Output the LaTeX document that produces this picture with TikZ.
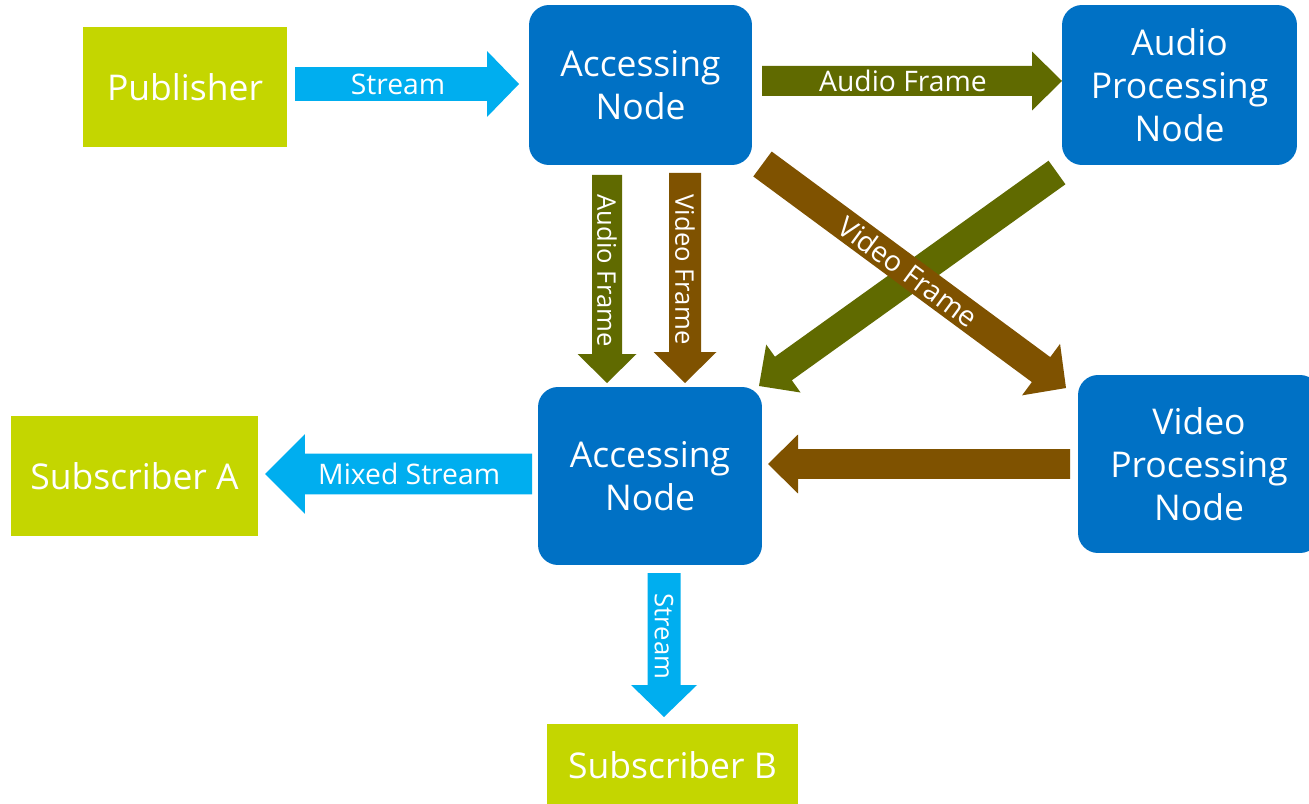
\documentclass[tikz,border=0pt]{standalone}
\usepackage{fontspec}
\setmainfont{Open Sans}
\usetikzlibrary{calc}

\definecolor{nodeblue}{RGB}{0,113,197}
\definecolor{endgreen}{RGB}{196,214,0}
\definecolor{streamcyan}{RGB}{0,174,239}
\definecolor{audioolive}{RGB}{96,106,0}
\definecolor{videobrown}{RGB}{127,82,0}

% Block arrow from #1 to #2: half shaft width #3, half head width #4,
% head length #5, fill #6
\newcommand\blockarrow[6]{%
  \coordinate (hb) at ($(#2)!#5!(#1)$);
  \fill[#6] ($(#1)!#3!90:(#2)$) -- ($(hb)!#3!90:(#2)$) -- ($(hb)!#4!90:(#2)$)
    -- (#2) -- ($(hb)!#4!-90:(#2)$) -- ($(hb)!#3!-90:(#2)$)
    -- ($(#1)!#3!-90:(#2)$) -- cycle;
}

\tikzset{
  box/.style={inner sep=0pt, text=white, align=center,
    font=\fontsize{20.2pt}{24.5pt}\selectfont},
  server/.style={box, fill=nodeblue, rounded corners=0.4cm},
  client/.style={box, fill=endgreen},
  lbl/.style={inner sep=0pt, text=white, font=\fontsize{16.1pt}{19pt}\selectfont},
  vlbl/.style={lbl, rotate=-90, font=\fontsize{14.6pt}{18pt}\selectfont},
}

\begin{document}
\begin{tikzpicture}[x=0.02cm, y=-0.02cm]
  \fill[white] (0,0) rectangle (1309,804);
  \useasboundingbox (0,0) rectangle (1309,804);

  % nodes (sizes in cm: 1 unit = 0.02cm)
  \node[client, minimum width=4.08cm, minimum height=2.4cm] (pub) at (185,87) {Publisher};
  \node[server, minimum width=4.46cm, minimum height=3.2cm] (acc1) at (640.5,85) {Accessing\\Node};
  \node[server, minimum width=4.7cm, minimum height=3.2cm] (apn) at (1179.5,85) {Audio\\Processing\\Node};
  \node[server, minimum width=4.48cm, minimum height=3.56cm] (acc2) at (650,476) {Accessing\\Node};
  \node[server, minimum width=4.84cm, minimum height=3.56cm] (vpn) at (1199,464) {Video\\Processing\\Node};
  \node[client, minimum width=4.94cm, minimum height=2.4cm] (subA) at (134.5,476) {Subscriber A};
  \node[client, minimum width=5.02cm, minimum height=1.64cm] (subB) at (672.5,765) {Subscriber B};

  % arrow end points
  \coordinate (s1) at (295,84);    \coordinate (e1) at (519,84);
  \coordinate (s2) at (762,81);    \coordinate (e2) at (1062,81);
  \coordinate (s3) at (607,175);   \coordinate (e3) at (607,383);
  \coordinate (s4) at (685,173);   \coordinate (e4) at (685,383);
  \coordinate (s5) at (1057,172.5);\coordinate (e5) at (759,386);
  \coordinate (s6) at (762.5,164); \coordinate (e6) at (1066,388);
  \coordinate (s7) at (1070,464);  \coordinate (e7) at (768,464);
  \coordinate (s8) at (532,474);   \coordinate (e8) at (265,474);
  \coordinate (s9) at (664,573);   \coordinate (e9) at (664,717);

  % publisher -> accessing node
  \blockarrow{s1}{e1}{0.34cm}{0.66cm}{0.64cm}{streamcyan}
  \path (s1) -- (e1) node[lbl, pos=0.46] {Stream};

  % accessing node -> audio processing node
  \blockarrow{s2}{e2}{0.3cm}{0.59cm}{0.6cm}{audioolive}
  \path (s2) -- (e2) node[lbl, pos=0.47] {Audio Frame};

  % accessing node -> accessing node
  \blockarrow{s3}{e3}{0.3cm}{0.59cm}{0.58cm}{audioolive}
  \path (s3) -- (e3) node[vlbl, pos=0.46] {Audio Frame};
  \blockarrow{s4}{e4}{0.32cm}{0.63cm}{0.62cm}{videobrown}
  \path (s4) -- (e4) node[vlbl, pos=0.46] {Video Frame};

  % audio processing node -> accessing node
  \blockarrow{s5}{e5}{0.29cm}{0.59cm}{0.6cm}{audioolive}

  % accessing node -> video processing node
  \blockarrow{s6}{e6}{0.31cm}{0.64cm}{0.62cm}{videobrown}
  \path (s6) -- (e6) node[lbl, pos=0.48, sloped] {Video Frame};

  % video processing node -> accessing node
  \blockarrow{s7}{e7}{0.3cm}{0.59cm}{0.6cm}{videobrown}

  % accessing node -> subscribers
  \blockarrow{s8}{e8}{0.41cm}{0.8cm}{0.8cm}{streamcyan}
  \path (s8) -- (e8) node[lbl, pos=0.46] {Mixed Stream};
  \blockarrow{s9}{e9}{0.33cm}{0.66cm}{0.64cm}{streamcyan}
  \path (s9) -- (e9) node[vlbl, pos=0.44] {Stream};
\end{tikzpicture}
\end{document}
